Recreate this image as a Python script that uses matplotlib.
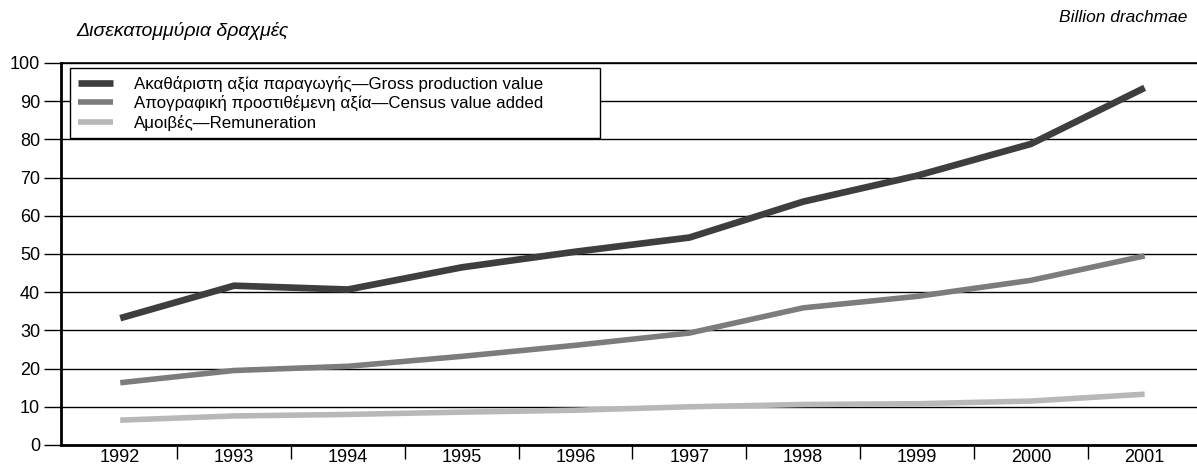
import matplotlib
matplotlib.use("Agg")
import matplotlib.pyplot as plt
from matplotlib.ticker import MultipleLocator, FixedLocator

plt.rcParams['font.family'] = ['Liberation Sans', 'DejaVu Sans']

years = [1992, 1993, 1994, 1995, 1996, 1997, 1998, 1999, 2000, 2001]
gross = [33.2, 41.7, 40.7, 46.5, 50.6, 54.3, 63.7, 70.5, 78.8, 93.5]
census = [16.3, 19.5, 20.6, 23.2, 26.1, 29.3, 35.9, 38.9, 43.1, 49.5]
remun = [6.5, 7.6, 8.0, 8.6, 9.1, 10.0, 10.6, 10.8, 11.5, 13.3]

labels = ["Ακαθάριστη αξία παραγωγής—Gross production value",
          "Απογραφική προστιθέμενη αξία—Census value added",
          "Αμοιβές—Remuneration"]

fig = plt.figure(figsize=(11.97, 4.69), dpi=100)
ax = fig.add_axes([0.051, 0.0512, 0.949, 0.8145])

ax.plot(years, gross, color='#3e3e3e', lw=4.8, label=labels[0], solid_capstyle='butt')
ax.plot(years, census, color='#7c7c7c', lw=4.0, label=labels[1], solid_capstyle='butt')
ax.plot(years, remun, color='#b8b8b8', lw=4.0, label=labels[2], solid_capstyle='butt')

ax.set_xlim(1991.48, 2001.46)
ax.set_ylim(0, 100)
ax.yaxis.set_major_locator(MultipleLocator(10))
ax.grid(axis='y', color='black', lw=1.0)
ax.set_axisbelow(True)

ax.set_xticks(years)
ax.xaxis.set_minor_locator(FixedLocator([y + 0.5 for y in years[:-1]]))
ax.tick_params(axis='x', which='major', length=0, labelsize=13, pad=3)
ax.tick_params(axis='x', which='minor', length=10, width=1.0, direction='out')
ax.tick_params(axis='y', length=12, width=1.0, direction='out', labelsize=13, pad=3)

for side in ['left', 'bottom']:
    ax.spines[side].set_linewidth(2.0)
ax.spines['right'].set_visible(False)
ax.spines['top'].set_linewidth(1.2)

# legend box stretched to the width seen in the scan
leg = ax.legend(loc='upper left', bbox_to_anchor=(0.008, 0.0, 0.4665, 0.987),
                mode='expand', borderaxespad=0,
                fontsize=12.2, handlelength=2.1, handletextpad=1.2, labelspacing=0.2,
                borderpad=0.45, fancybox=False, framealpha=1, edgecolor='black')
leg.get_frame().set_linewidth(1.0)

fig.text(0.064, 0.934, "Δισεκατομμύρια δραχμές", fontsize=14, style='italic', va='center')
fig.text(0.992, 0.962, "Billion drachmae", fontsize=12.5, style='italic', va='center', ha='right')

fig.savefig('out.png', dpi=100)
